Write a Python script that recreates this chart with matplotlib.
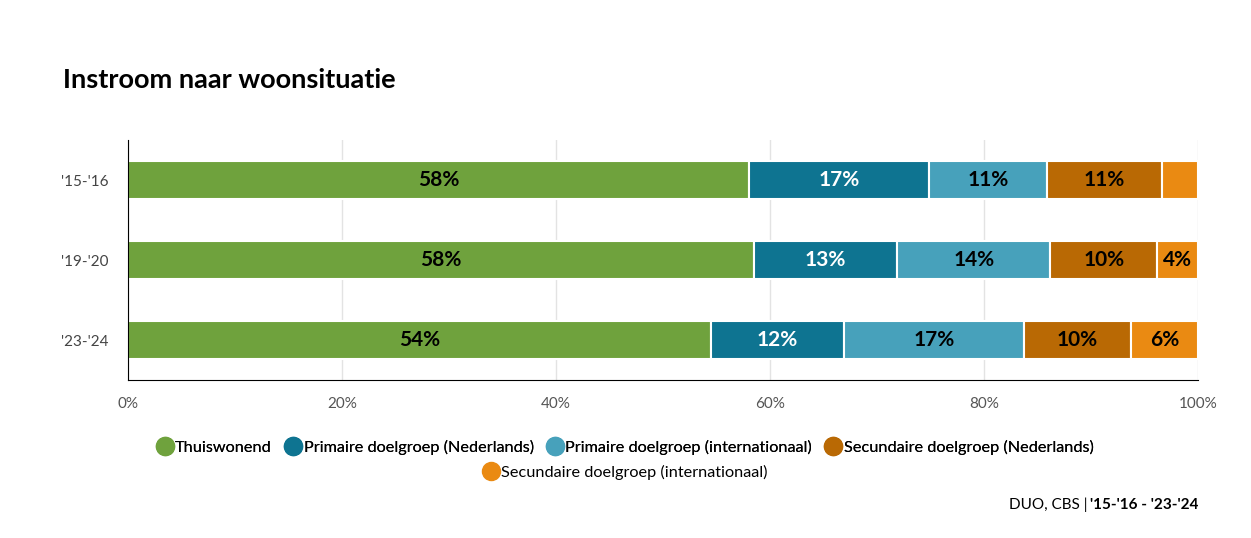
import matplotlib.pyplot as plt
from matplotlib.lines import Line2D
import numpy as np

plt.rcParams['font.family'] = ['Lato', 'DejaVu Sans']

years = ["'15-'16", "'19-'20", "'23-'24"]
categories = ['Thuiswonend', 'Primaire doelgroep (Nederlands)', 'Primaire doelgroep (internationaal)',
              'Secundaire doelgroep (Nederlands)', 'Secundaire doelgroep (internationaal)']
thuiswonend = [58.0, 58.5, 54.5]
prim_nl = [16.9, 13.4, 12.4]
prim_int = [11.0, 14.3, 16.8]
sec_nl = [10.7, 10.0, 10.0]
sec_int = [3.4, 3.8, 6.3]
colors = ['#6fa23d', '#0e7491', '#47a1bb', '#b96904', '#ea8a12']
text_colors = ['black', 'white', 'black', 'black', 'black']

series = [thuiswonend, prim_nl, prim_int, sec_nl, sec_int]

fig = plt.figure(figsize=(12.51, 5.38), dpi=100)
ax = fig.add_axes([128 / 1251, 1 - 380 / 538, 1070 / 1251, 240 / 538])

ypos = np.arange(len(years))
left = np.zeros(len(years))
for vals, c, tc in zip(series, colors, text_colors):
    vals = np.array(vals)
    ax.barh(ypos, vals, left=left, height=0.47, color=c, edgecolor='white', linewidth=1.5, zorder=3)
    for y, v, l in zip(ypos, vals, left):
        if v >= 3.6:
            ax.text(l + v / 2, y, f'{round(v)}%', ha='center', va='center', color=tc,
                    fontsize=15, fontweight='bold', zorder=4)
    left += vals

ax.set_xlim(0, 100)
ax.set_ylim(2.5, -0.5)
ax.set_yticks(ypos)
ax.set_yticklabels(years, fontsize=11, color='#444444')
ax.set_xticks([0, 20, 40, 60, 80, 100])
ax.set_xticklabels(['0%', '20%', '40%', '60%', '80%', '100%'], fontsize=11, color='#555555')
ax.tick_params(axis='both', length=0, pad=12)
ax.tick_params(axis='y', pad=14)
ax.grid(axis='x', color='#e3e3e3', linewidth=1, zorder=0)
for s in ['top', 'right']:
    ax.spines[s].set_visible(False)
for s in ['left', 'bottom']:
    ax.spines[s].set_color('black')
    ax.spines[s].set_zorder(6)

fig.text(63 / 1251, 1 - 80 / 538, 'Instroom naar woonsituatie', fontsize=19.5, fontweight='bold',
         ha='left', va='center')

handles = [Line2D([], [], marker='o', linestyle='none', markersize=13, color=c) for c in colors]
leg1 = fig.legend(handles[:4], categories[:4], loc='center', bbox_to_anchor=(625 / 1251, 1 - 447 / 538),
                  ncol=4, frameon=False, fontsize=11.7, handletextpad=0.15, columnspacing=0.8,
                  handlelength=1.0)
leg2 = fig.legend(handles[4:], categories[4:], loc='center', bbox_to_anchor=(625 / 1251, 1 - 472 / 538),
                  ncol=1, frameon=False, fontsize=11.7, handletextpad=0.15, handlelength=1.0)
fig.add_artist(leg1)

t = fig.text(1198 / 1251, 1 - 505 / 538, "'15-'16 - '23-'24", fontsize=11, fontweight='bold',
             ha='right', va='center')
fig.canvas.draw()
bb = t.get_window_extent()
fig.text(bb.x0 / fig.bbox.width - 0.002, 1 - 505 / 538, 'DUO, CBS |', fontsize=11, ha='right', va='center')

fig.savefig('out.png', dpi=100)
